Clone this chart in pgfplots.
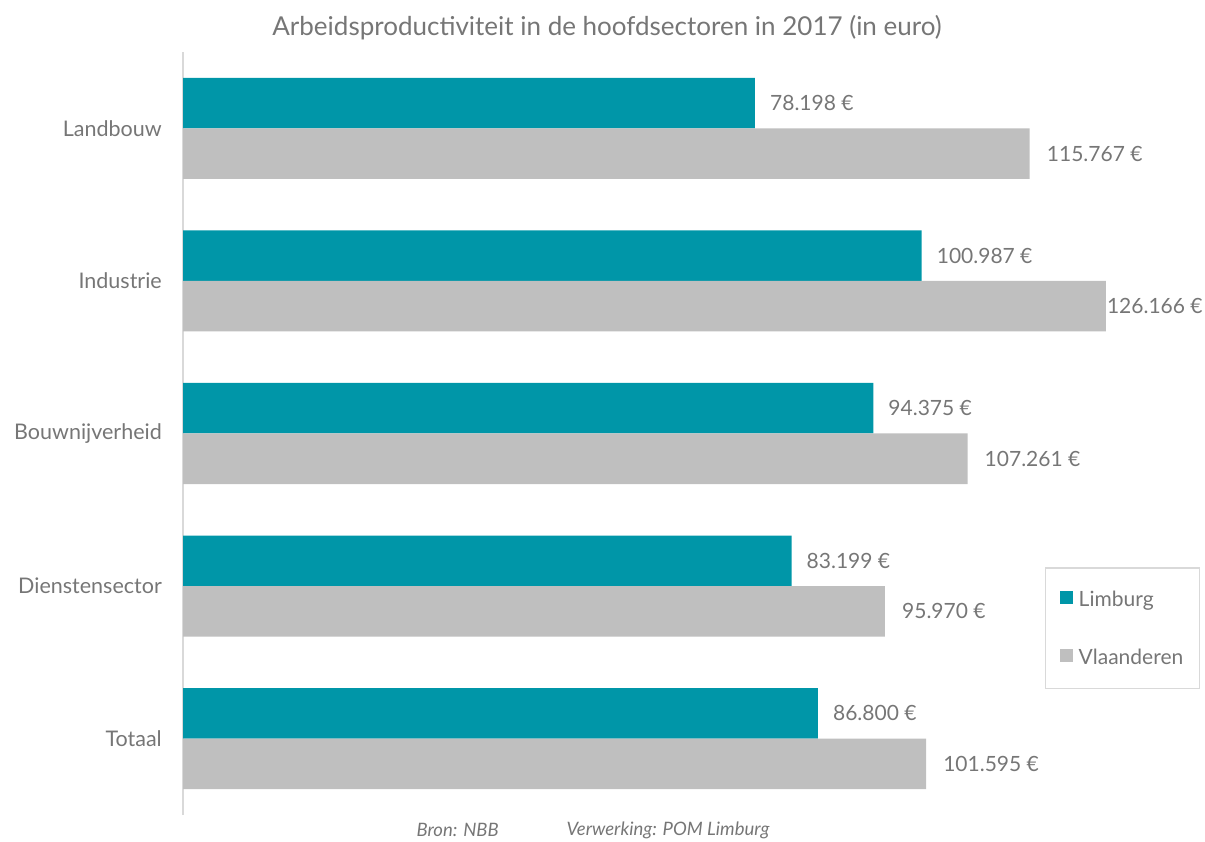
\documentclass[border=0pt]{standalone}
\usepackage{fontspec}
\setmainfont{Lato}
\usepackage{pgfplots}
\pgfplotsset{compat=1.18}
\usepackage{pgfplotstable}
\definecolor{teal1}{HTML}{0096A8}
\definecolor{grey1}{HTML}{BFBFBF}
\definecolor{txt}{HTML}{767676}
\definecolor{axisc}{HTML}{D9D9D9}

\pgfplotstableread{
y val lab dx
4 78198 78.198 15
3 100987 100.987 15
2 94375 94.375 15
1 83199 83.199 15
0 86800 86.800 15
}\limb
\pgfplotstableread{
y val lab dx
4 115767 115.767 17
3 126166 126.166 1
2 107261 107.261 17
1 95970 95.970 17
0 101595 101.595 17
}\vla

\begin{document}
\begin{tikzpicture}[x=1pt,y=1pt]
\path[use as bounding box] (0,0) rectangle (1205,841);
\begin{axis}[
  at={(183pt,26pt)}, anchor=south west,
  scale only axis, width=1024pt, height=763pt,
  xmin=0, xmax=140000, ymin=-0.5, ymax=4.5,
  xbar, bar width=50.5pt,
  axis x line=none,
  axis y line*=left,
  y axis line style={draw=axisc, line width=1.5pt, -},
  ytick={0,...,4},
  yticklabels={Totaal,Dienstensector,Bouwnijverheid,Industrie,Landbouw},
  major tick length=0pt,
  yticklabel style={font=\fontsize{21.5}{25}\selectfont, text=txt, inner sep=0pt, xshift=-21pt},
  clip=false,
  nodes near coords={\pgfplotspointmeta~€},
  point meta=explicit symbolic,
  visualization depends on={\thisrow{dx} \as \dx},
  nodes near coords style={font=\fontsize{21}{25}\selectfont, text=txt, inner sep=0pt, anchor=west, xshift=\dx},
  legend style={at={(0.8418,0.3250)}, anchor=north west, draw=axisc, line width=1.5pt,
    font=\fontsize{21}{25}\selectfont, text=txt, inner xsep=14pt, inner ysep=21pt, row sep=37pt},
  legend cell align=left,
  legend image code/.code={\fill[#1] (0pt,-5pt) rectangle (13pt,8pt);},
]
\addplot[fill=teal1, draw=none, bar shift=25.25pt] table[x=val, y=y, meta=lab]{\limb};
\addplot[fill=grey1, draw=none, bar shift=-25.25pt] table[x=val, y=y, meta=lab]{\vla};
\legend{\hspace{4pt}Limburg, \hspace{4pt}Vlaanderen}
\end{axis}
\node[text=txt, font=\fontsize{26}{30}\selectfont] at (607,813) {Arbeidsproductiviteit in de hoofdsectoren in 2017 (in euro)};
\node[text=txt, font=\fontsize{18.5}{22}\selectfont\itshape, anchor=west] at (413,11) {Bron: NBB};
\node[text=txt, font=\fontsize{18.5}{22}\selectfont\itshape, anchor=west] at (563,11) {Verwerking: POM Limburg};
\end{tikzpicture}
\end{document}
